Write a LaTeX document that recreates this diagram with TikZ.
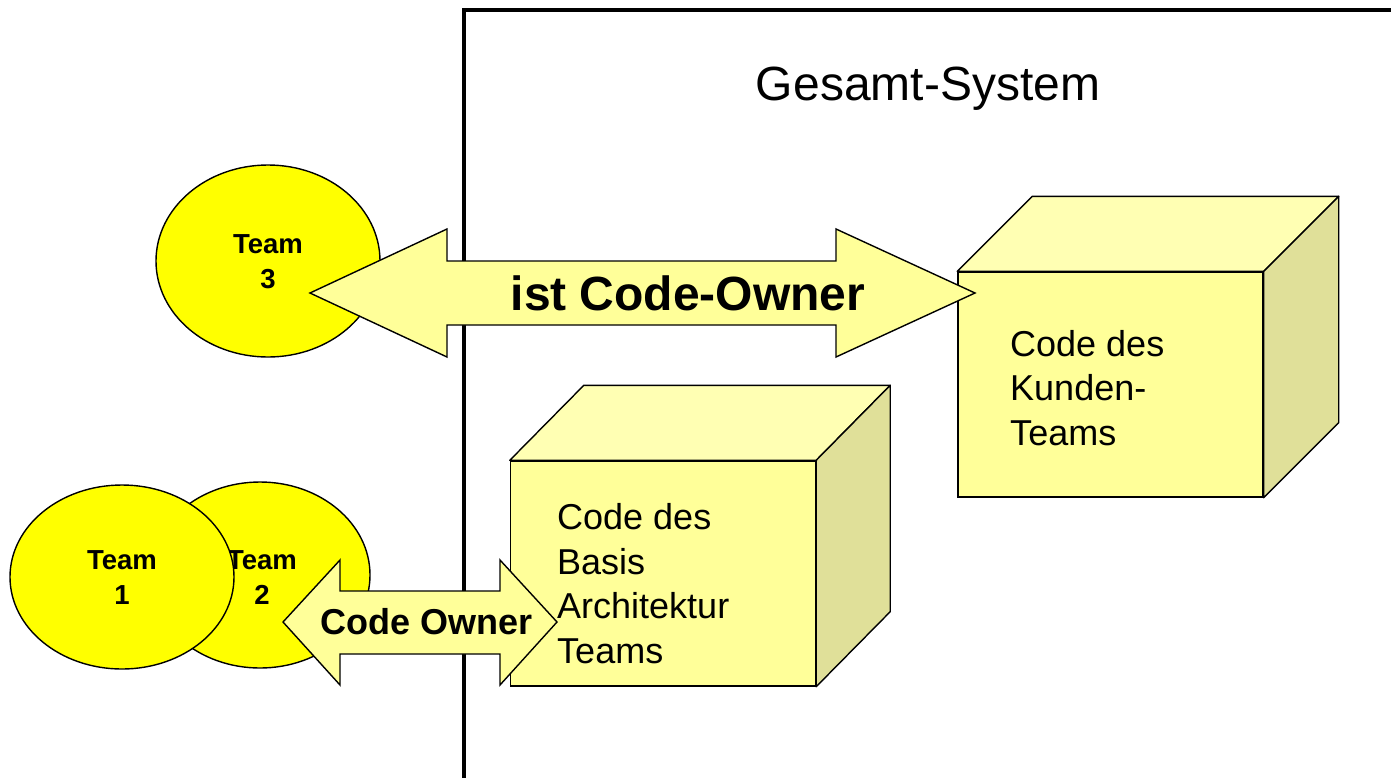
\documentclass[tikz,border=0pt]{standalone}
\usepackage{fontspec}
\setmainfont{Liberation Sans}
\usetikzlibrary{calc,shapes.geometric}

\definecolor{teamyellow}{RGB}{255,255,0}
\definecolor{paleyellow}{RGB}{255,255,153}
\definecolor{cubetop}{RGB}{255,255,179}
\definecolor{cubeside}{RGB}{224,224,153}

\begin{document}
\begin{tikzpicture}[x=1pt,y=-1pt,
  team/.style={ellipse, draw=black, line width=1.4pt, fill=teamyellow,
    inner sep=0pt, minimum width=220pt, minimum height=186pt},
  teamlabel/.style={align=center, font=\bfseries\fontsize{27.5}{35}\selectfont},
  cubefront/.style={rectangle, draw=black, line width=1.4pt, fill=paleyellow,
    inner sep=0pt, minimum width=305pt, minimum height=225pt},
  cubetopface/.style={draw=black, line width=1.4pt, fill=cubetop, line join=round},
  cubesideface/.style={draw=black, line width=1.4pt, fill=cubeside, line join=round},
  cubelabel/.style={anchor=west, align=left, inner sep=0pt,
    font=\fontsize{36}{44.5}\selectfont},
  blockarrow/.style={draw=black, line width=1.4pt, fill=paleyellow, line join=miter},
]
\useasboundingbox (0,0) rectangle (1391,777);

% the teams
\node[team] (t2) at (260,575) {};
\node[teamlabel] (t2l) at (262,578) {Team\\2};
\node[team, minimum width=224pt, minimum height=184pt] (t1) at (122,577) {};
\node[teamlabel] (t1l) at (122,578) {Team\\1};
\node[team, minimum width=224pt, minimum height=192pt] (t3) at (268,261) {};
\node[teamlabel] (t3l) at (268,262) {Team\\3};

% the whole system
\draw[line width=4.2pt] (464,790) -- (464,10) -- (1400,10);
\node[font=\fontsize{48}{58}\selectfont, anchor=base] (sys) at (928,100) {Gesamt-System};

% cube: code of the customer teams
\node[cubefront] (kf) at (1110.5,384.5) {};
\draw[cubetopface] (kf.north west) -- ++(75,-75) -- ($(kf.north east)+(75,-75)$) -- (kf.north east) -- cycle;
\draw[cubesideface] (kf.north east) -- ++(75,-75) -- ($(kf.south east)+(75,-75)$) -- (kf.south east) -- cycle;
\node[cubelabel] (kl) at (1010,388) {Code des\\Kunden-\\Teams};

% cube: code of the base architecture teams
\node[cubefront] (bf) at (663,573.5) {};
\draw[cubetopface] (bf.north west) -- ++(74,-75) -- ($(bf.north east)+(74,-75)$) -- (bf.north east) -- cycle;
\draw[cubesideface] (bf.north east) -- ++(74,-75) -- ($(bf.south east)+(74,-75)$) -- (bf.south east) -- cycle;
\node[cubelabel] (bl) at (557,583.5) {Code des\\Basis\\Architektur\\Teams};

% double block arrow between team 3 and the customer code
\coordinate (a1) at (310,293);
\coordinate (a2) at (975,293);
\draw[blockarrow] (a1) -- ($(a1)+(137,-64)$) -- ($(a1)+(137,-32)$)
  -- ($(a2)+(-139,-32)$) -- ($(a2)+(-139,-64)$) -- (a2)
  -- ($(a2)+(-139,64)$) -- ($(a2)+(-139,32)$)
  -- ($(a1)+(137,32)$) -- ($(a1)+(137,64)$) -- cycle;
\node[font=\bfseries\fontsize{48}{58}\selectfont] (al) at (688,293) {ist Code-Owner};

% double block arrow between teams 1/2 and the base code
\coordinate (b1) at (283,622);
\coordinate (b2) at (557,622);
\draw[blockarrow] (b1) -- ($(b1)+(57,-62)$) -- ($(b1)+(57,-31)$)
  -- ($(b2)+(-57,-31)$) -- ($(b2)+(-57,-62)$) -- (b2)
  -- ($(b2)+(-57,63)$) -- ($(b2)+(-57,32)$)
  -- ($(b1)+(57,32)$) -- ($(b1)+(57,63)$) -- cycle;
\node[font=\bfseries\fontsize{36}{44}\selectfont] (bl2) at (427,622) {Code Owner};
\end{tikzpicture}
\end{document}
